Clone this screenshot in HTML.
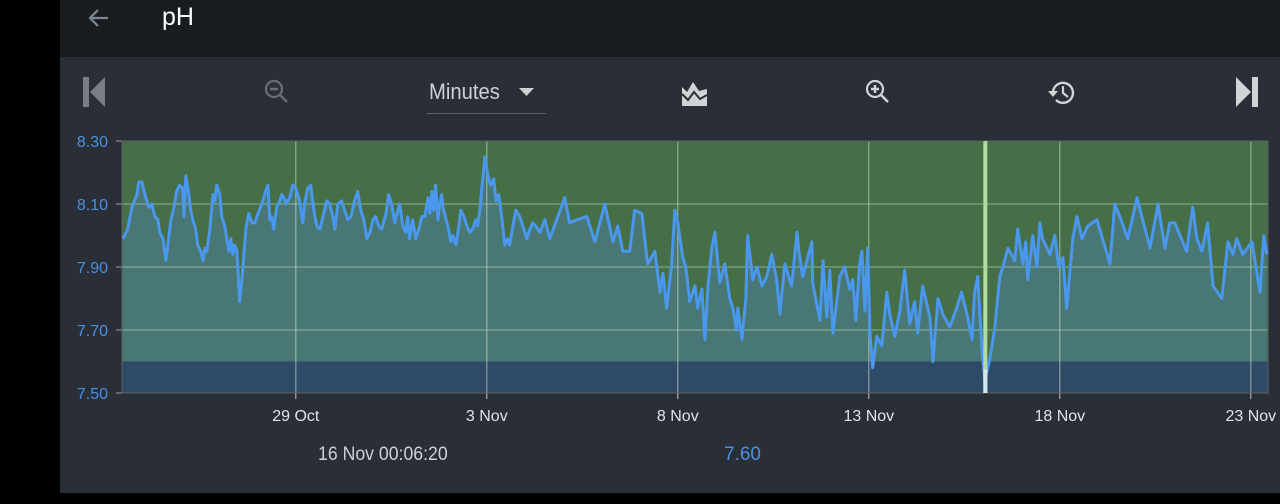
<!DOCTYPE html>
<html><head><meta charset="utf-8">
<style>
html,body{margin:0;padding:0;background:#000;width:1280px;height:504px;overflow:hidden;font-family:"Liberation Sans",sans-serif;}
#hdr{position:absolute;left:60px;top:0;width:1220px;height:57px;background:#1a1d20;}
#panel{position:absolute;left:60px;top:57px;width:1220px;height:436px;background:#2a2e36;}
.t{position:absolute;white-space:nowrap;}
</style></head><body>
<div id="hdr">
  <svg style="position:absolute;left:26px;top:6px" width="26" height="24"><path d="M22 12H5M12 4L4 12l8 8" stroke="#7d8792" stroke-width="2.2" fill="none"/></svg>
  <div class="t" style="left:102px;top:3px;font-size:25px;color:#fff">pH</div>
</div>
<div id="panel">
  <svg style="position:absolute;left:22px;top:19px" width="24" height="32"><rect x="1" y="1" width="6" height="30" fill="#7a7d83"/><path d="M23 1L8 16l15 15z" fill="#7a7d83"/></svg>
  <svg style="position:absolute;left:203px;top:21px" width="28" height="28"><circle cx="11" cy="11" r="8" stroke="#6a6d72" stroke-width="2.2" fill="none"/><path d="M7 11h8M17 17l7 7" stroke="#6a6d72" stroke-width="2.4"/></svg>
  <div class="t" style="left:369px;top:22px;font-size:22px;color:#cfd1d5;transform:scaleX(0.92);transform-origin:left">Minutes</div>
  <svg style="position:absolute;left:459px;top:31px" width="16" height="9"><path d="M0 0h15L7.5 8z" fill="#cfd1d5"/></svg>
  <div style="position:absolute;left:367px;top:56px;width:119px;height:1px;background:#5b5f66"></div>
  <svg style="position:absolute;left:620px;top:22px" width="30" height="28"><path d="M2 8l5 5 6-10 6 9 8-2v14H2z M2 18l6 6 6-8 6 7 7-4v8H2z" fill="#d2d3d7"/><path d="M2 15l6 6 6-8 6 7 7-4" stroke="#2a2e36" stroke-width="2" fill="none"/></svg>
  <svg style="position:absolute;left:804px;top:21px" width="30" height="30"><circle cx="11" cy="11" r="8" stroke="#d2d3d7" stroke-width="2.2" fill="none"/><path d="M7 11h8M11 7v8M17 17l7 7" stroke="#d2d3d7" stroke-width="2.4"/></svg>
  <svg style="position:absolute;left:987px;top:21px" width="30" height="30"><path d="M6 14a10 10 0 1 1 3 8" stroke="#d2d3d7" stroke-width="2.4" fill="none"/><path d="M1 13h10l-5 6z" fill="#d2d3d7"/><path d="M16 8v7l5 4" stroke="#d2d3d7" stroke-width="2.2" fill="none"/></svg>
  <svg style="position:absolute;left:1175px;top:19px" width="24" height="32"><path d="M1 1l15 15L1 31z" fill="#d2d3d7"/><rect x="17" y="1" width="6" height="30" fill="#d2d3d7"/></svg>
  <div class="t" style="left:258px;top:387px;font-size:19px;color:#cfd1d5;transform:scaleX(0.93);transform-origin:left">16 Nov 00:06:20</div>
  <div class="t" style="left:664px;top:387px;font-size:19px;color:#4a90e2">7.60</div>
</div>
<svg id="chart" style="position:absolute;left:0;top:0" width="1280" height="504"></svg>
<script>
const dayTicks=[0,5,10,15,20,25];
const dayLabels=["29 Oct","3 Nov","8 Nov","13 Nov","18 Nov","23 Nov"];
const yTicks=[7.5,7.7,7.9,8.1,8.3];
const yLabels=["7.50","7.70","7.90","8.10","8.30"];
const lowLimit=7.6;
const cursorDay=18.05;
const days=[-4.53,-4.40,-4.29,-4.16,-4.11,-4.03,-3.95,-3.85,-3.77,-3.69,-3.61,-3.56,-3.48,-3.40,-3.35,-3.27,-3.19,-3.12,-3.04,-2.96,-2.93,-2.88,-2.80,-2.75,-2.70,-2.62,-2.57,-2.49,-2.43,-2.38,-2.33,-2.25,-2.17,-2.12,-2.07,-1.99,-1.94,-1.86,-1.81,-1.75,-1.70,-1.65,-1.60,-1.54,-1.49,-1.47,-1.39,-1.31,-1.23,-1.15,-1.07,-0.99,-0.89,-0.79,-0.73,-0.68,-0.63,-0.58,-0.50,-0.42,-0.37,-0.31,-0.26,-0.16,-0.08,-0.03,0.05,0.10,0.18,0.24,0.31,0.39,0.47,0.55,0.63,0.71,0.81,0.89,0.97,1.02,1.10,1.20,1.28,1.36,1.44,1.54,1.62,1.70,1.78,1.86,1.94,2.02,2.09,2.17,2.25,2.36,2.43,2.51,2.59,2.67,2.72,2.80,2.88,2.93,2.98,3.06,3.14,3.22,3.30,3.38,3.46,3.51,3.56,3.61,3.66,3.72,3.77,3.82,3.85,3.98,4.06,4.11,4.19,4.27,4.32,4.40,4.48,4.55,4.63,4.71,4.76,4.82,4.87,4.95,5.03,5.10,5.18,5.24,5.31,5.39,5.47,5.55,5.60,5.68,5.76,5.86,5.97,6.05,6.13,6.20,6.28,6.39,6.52,6.65,6.83,7.04,7.17,7.36,7.62,7.83,8.09,8.30,8.43,8.56,8.74,8.87,9.06,9.21,9.40,9.53,9.61,9.71,9.84,9.92,10.00,10.13,10.21,10.31,10.45,10.52,10.63,10.71,10.79,10.89,10.97,11.10,11.23,11.36,11.44,11.54,11.57,11.68,11.78,11.83,11.96,12.07,12.20,12.33,12.46,12.59,12.67,12.80,12.98,13.12,13.17,13.27,13.38,13.51,13.53,13.72,13.80,13.90,13.98,14.06,14.24,14.37,14.50,14.58,14.66,14.76,14.82,14.90,14.97,15.03,15.10,15.21,15.34,15.47,15.55,15.68,15.81,15.94,16.07,16.20,16.28,16.41,16.60,16.68,16.81,16.94,17.12,17.30,17.43,17.57,17.70,17.77,17.85,17.96,18.04,18.17,18.30,18.43,18.51,18.64,18.82,18.90,19.03,19.11,19.16,19.29,19.40,19.48,19.55,19.74,19.87,19.97,20.08,20.18,20.34,20.45,20.58,20.73,20.97,21.31,21.44,21.57,21.78,22.02,22.36,22.57,22.75,22.88,23.01,23.32,23.48,23.59,23.72,23.87,24.01,24.24,24.40,24.53,24.63,24.79,25.03,25.24,25.34,25.42];
const phValues=[7.99,8.02,8.09,8.13,8.17,8.17,8.13,8.09,8.10,8.06,8.05,8.01,7.99,7.92,7.97,8.05,8.09,8.14,8.16,8.15,8.06,8.19,8.13,8.08,8.05,8.02,7.97,7.95,7.92,7.96,7.95,8.02,8.13,8.11,8.16,8.13,8.06,8.03,7.99,7.95,7.99,7.94,7.97,7.95,7.83,7.79,7.89,8.02,8.07,8.04,8.04,8.07,8.10,8.14,8.16,8.05,8.06,8.02,8.09,8.11,8.13,8.12,8.10,8.12,8.16,8.16,8.13,8.11,8.04,8.11,8.15,8.16,8.08,8.03,8.02,8.06,8.11,8.10,8.06,8.02,8.10,8.11,8.08,8.05,8.06,8.11,8.14,8.08,8.05,7.99,8.01,8.05,8.06,8.03,8.02,8.07,8.13,8.10,8.04,8.08,8.10,8.03,8.01,8.06,7.99,8.05,7.99,8.02,8.06,8.06,8.12,8.07,8.14,8.08,8.16,8.05,8.10,8.13,8.09,8.03,7.98,8.00,7.97,8.03,8.08,8.06,8.03,8.01,8.02,8.05,8.03,8.08,8.15,8.25,8.19,8.16,8.18,8.11,8.13,8.06,7.97,7.99,7.97,8.03,8.08,8.06,8.02,7.99,8.02,8.04,8.03,8.01,8.05,7.99,8.05,8.12,8.04,8.05,8.06,7.98,8.10,7.98,8.03,7.95,7.95,8.08,8.07,7.91,7.95,7.82,7.88,7.77,7.91,8.08,8.04,7.93,7.90,7.79,7.84,7.77,7.83,7.67,7.84,7.96,8.01,7.85,7.91,7.80,7.77,7.70,7.77,7.67,7.80,8.00,7.86,7.90,7.84,7.87,7.94,7.86,7.75,7.91,7.84,8.01,7.95,7.87,7.92,7.98,7.85,7.73,7.92,7.74,7.89,7.69,7.87,7.90,7.83,7.86,7.73,7.91,7.95,7.76,7.96,7.69,7.58,7.68,7.65,7.82,7.75,7.68,7.76,7.89,7.72,7.79,7.69,7.84,7.74,7.60,7.80,7.75,7.71,7.77,7.82,7.75,7.67,7.82,7.87,7.64,7.54,7.61,7.71,7.87,7.90,7.96,7.92,8.02,7.91,7.98,7.86,8.00,7.90,8.04,7.99,7.94,8.00,7.90,7.93,7.77,7.99,8.06,7.99,8.03,8.05,7.91,8.10,8.06,7.99,8.12,7.96,8.10,7.96,8.04,8.04,7.95,8.09,7.99,7.95,8.04,7.84,7.80,7.98,7.94,7.99,7.94,7.98,7.82,8.00,7.94,7.98];

const NS="http://www.w3.org/2000/svg";
const svg=document.getElementById('chart');
const X0=122,X1=1268,Y0=141,Y1=393,D0=-4.55,D1=25.45,V0=7.5,V1=8.3;
function xs(d){return X0+(d-D0)/(D1-D0)*(X1-X0);}
function ys(v){return Y1-(v-V0)/(V1-V0)*(Y1-Y0);}
function mk(tag,attrs){const e=document.createElementNS(NS,tag);for(const k in attrs)e.setAttribute(k,attrs[k]);svg.appendChild(e);return e;}

let e=mk('rect',{x:X0,y:Y0,width:X1-X0,height:Y1-Y0,fill:'#466e47'});



let d='M'+xs(days[0])+','+Y1;
days.forEach((t,i)=>{d+=' L'+xs(t).toFixed(1)+','+ys(phValues[i]).toFixed(1);});
d+=' L'+xs(days[days.length-1])+','+Y1+' Z';
e=mk('path',{d:d,fill:'#497773'});



e=mk('rect',{x:X0,y:ys(lowLimit),width:X1-X0,height:Y1-ys(lowLimit),fill:'#2f4a67'});



yTicks.forEach((v,i)=>{
  if(v>V0&&v<V1){
    const g=mk('line',{x1:X0,x2:X1,y1:ys(v),y2:ys(v),stroke:'rgba(200,230,200,0.45)','stroke-width':1.3});
    
    
  }
  const tk=mk('line',{x1:X0-6,x2:X0,y1:ys(v),y2:ys(v),stroke:'#9a9ea4','stroke-width':1});
  
  
  const tx=mk('text',{x:108,y:ys(v)+6,'text-anchor':'end','font-size':16,fill:'#4a90e2','font-family':'Liberation Sans, sans-serif'});
  tx.textContent=yLabels[i];
  
  
});
dayTicks.forEach((t,i)=>{
  const g=mk('line',{x1:xs(t),x2:xs(t),y1:Y0,y2:Y1,stroke:'rgba(210,230,210,0.55)','stroke-width':1.2});
  
  
  const tk=mk('line',{x1:xs(t),x2:xs(t),y1:Y1,y2:Y1+6,stroke:'#c8cacd','stroke-width':1});
  
  
  const tx=mk('text',{x:xs(t),y:421,'text-anchor':'middle','font-size':16,fill:'#e2e3e5','font-family':'Liberation Sans, sans-serif'});
  tx.textContent=dayLabels[i];
  
  
});
e=mk('rect',{x:X0,y:Y0,width:X1-X0,height:Y1-Y0,fill:'none',stroke:'#5f6366','stroke-width':1});



let lp='';
days.forEach((t,i)=>{lp+=(i?' L':'M')+xs(t).toFixed(1)+','+ys(phValues[i]).toFixed(1);});
e=mk('path',{d:lp,fill:'none',stroke:'#4a97ee','stroke-width':3,'stroke-linejoin':'round'});



e=mk('rect',{x:xs(cursorDay)-2,y:Y0,width:4,height:Y1-Y0,fill:'#b3dca3'});


e=mk('rect',{x:xs(cursorDay)-2,y:ys(lowLimit)+8,width:4,height:Y1-ys(lowLimit)-8,fill:'#d4e6f3'});


</script>
</body></html>
